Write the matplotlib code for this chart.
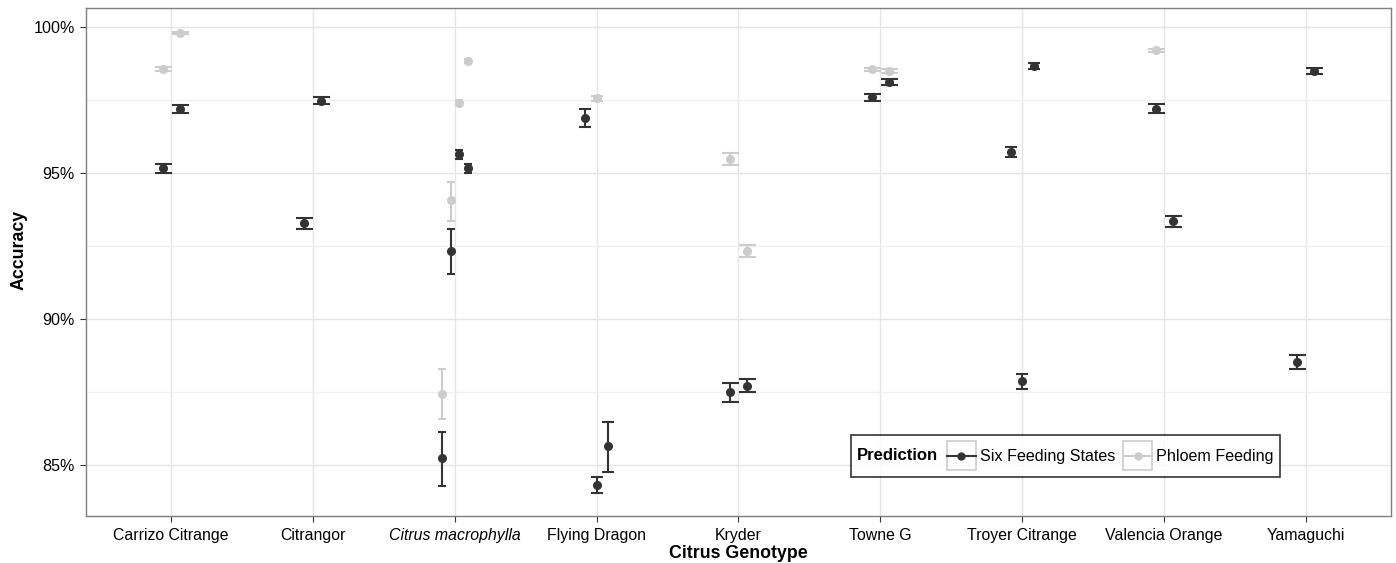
import matplotlib
matplotlib.use("Agg")
import matplotlib.pyplot as plt
from matplotlib.lines import Line2D
from matplotlib.patches import Rectangle
from matplotlib.legend_handler import HandlerLine2D
from matplotlib.ticker import FuncFormatter, MultipleLocator

plt.rcParams['font.family'] = ['Liberation Sans', 'DejaVu Sans']

genotypes = ["Carrizo Citrange", "Citrangor", "Citrus macrophylla", "Flying Dragon",
             "Kryder", "Towne G", "Troyer Citrange", "Valencia Orange", "Yamaguchi"]
# number of dodge groups present at each genotype
n_groups = [2, 2, 4, 3, 2, 2, 3, 2, 2]

# Six Feeding States: genotype index, dodge slot, mean accuracy, lower, upper
six_geno = [0, 0, 1, 1, 2, 2, 2, 2, 3, 3, 3, 4, 4, 5, 5, 6, 6, 6, 7, 7, 8, 8]
six_slot = [0, 1, 0, 1, 0, 1, 2, 3, 0, 1, 2, 0, 1, 0, 1, 0, 1, 2, 0, 1, 0, 1]
six_acc = [95.16, 97.20, 93.28, 97.48, 85.24, 92.33, 95.65, 95.17, 96.89, 84.30, 85.65,
           87.48, 87.71, 97.59, 98.12, 95.72, 87.86, 98.65, 97.20, 93.35, 88.53, 98.50]
six_lo = [95.01, 97.06, 93.09, 97.36, 84.28, 91.53, 95.47, 94.99, 96.59, 84.03, 84.77,
          87.15, 87.48, 97.47, 98.00, 95.56, 87.60, 98.55, 97.04, 93.15, 88.29, 98.39]
six_hi = [95.31, 97.34, 93.47, 97.60, 86.14, 93.07, 95.78, 95.31, 97.19, 84.57, 86.48,
          87.80, 87.95, 97.71, 98.23, 95.88, 88.10, 98.76, 97.37, 93.54, 88.77, 98.61]

# Phloem Feeding
phl_geno = [0, 0, 2, 2, 2, 2, 3, 4, 4, 5, 5, 7]
phl_slot = [0, 1, 0, 1, 2, 3, 1, 0, 1, 0, 1, 0]
phl_acc = [98.55, 99.80, 87.43, 94.07, 97.41, 98.83, 97.56, 95.48, 92.34, 98.55, 98.50, 99.20]
phl_lo = [98.49, 99.76, 86.58, 93.35, 97.33, 98.77, 97.48, 95.27, 92.13, 98.49, 98.43, 99.14]
phl_hi = [98.62, 99.84, 88.30, 94.70, 97.50, 98.89, 97.64, 95.68, 92.52, 98.61, 98.57, 99.26]

DODGE = 0.24
DARK = "#333333"
LIGHT = "#CCCCCC"


def dodge_x(geno, slot):
    n = n_groups[geno]
    return geno + (slot + 0.5 - n / 2.0) * DODGE / n


def draw_series(ax, geno, slot, acc, lo, hi, color):
    for g, s, a, l, h in zip(geno, slot, acc, lo, hi):
        n = n_groups[g]
        cap = 0.72 * 17.0 / n  # half cap width ~ slot width, in points
        ax.errorbar(dodge_x(g, s), a, yerr=[[a - l], [h - a]], fmt='o', color=color,
                    ms=5.5, elinewidth=1.5, capsize=cap, capthick=1.5, zorder=3)


class BoxedKey(HandlerLine2D):
    """legend key drawn inside a light grey box, like ggplot"""
    def create_artists(self, legend, orig_handle, xdescent, ydescent, width, height,
                       fontsize, trans):
        artists = super().create_artists(legend, orig_handle, xdescent, ydescent,
                                         width, height, fontsize, trans)
        yc = height / 2.0 - ydescent
        for a in artists:
            if isinstance(a, Line2D):
                xd = list(a.get_xdata())
                if len(xd) == 2:
                    xd = [xd[0] + 0.12 * width, xd[1] - 0.12 * width]
                    a.set_xdata(xd)
                a.set_ydata([yc] * len(xd))
        box = Rectangle((-xdescent, -ydescent), width, height, fill=False,
                        edgecolor="#CCCCCC", lw=1.2, transform=trans)
        return [box] + artists


fig = plt.figure(figsize=(13.96, 5.63), dpi=100)
ax = fig.add_axes([0.0616, 0.0835, 0.9348, 0.9023])

draw_series(ax, phl_geno, phl_slot, phl_acc, phl_lo, phl_hi, LIGHT)
draw_series(ax, six_geno, six_slot, six_acc, six_lo, six_hi, DARK)

ax.set_xlim(-0.6, len(genotypes) - 0.4)
ax.set_ylim(83.25, 100.65)
ax.set_xticks(range(len(genotypes)))
ax.set_xticklabels(genotypes, fontsize=11.4, color="black")
for lab in ax.get_xticklabels():
    if lab.get_text() == "Citrus macrophylla":
        lab.set_style("italic")
ax.yaxis.set_major_locator(MultipleLocator(5))
ax.yaxis.set_minor_locator(MultipleLocator(2.5))
ax.yaxis.set_major_formatter(FuncFormatter(lambda v, p: "%d%%" % v))
ax.tick_params(axis='y', which='major', labelsize=11.6, labelcolor="black", color="#333333",
               length=4, pad=4)
ax.tick_params(axis='y', which='minor', length=0)
ax.tick_params(axis='x', color="#333333", length=4, pad=5)

ax.grid(which='major', color="#E5E5E5", linewidth=1, zorder=0)
ax.grid(which='minor', axis='y', color="#F0F0F0", linewidth=1, zorder=0)
ax.set_axisbelow(True)
for sp in ax.spines.values():
    sp.set_color("#7F7F7F")
    sp.set_linewidth(1)

ax.set_xlabel("Citrus Genotype", fontsize=12.8, fontweight='bold', labelpad=1)
ax.set_ylabel("Accuracy", fontsize=12.8, fontweight='bold')
ax.yaxis.set_label_coords(-0.0445, 0.524)

handles = [Line2D([], [], color=DARK, marker='o', ms=5, lw=1.5),
           Line2D([], [], color=LIGHT, marker='o', ms=5, lw=1.5)]
leg = ax.legend(handles, ["Six Feeding States", "Phloem Feeding"], ncol=2,
                title="Prediction", title_fontproperties={'weight': 'bold', 'size': 12},
                fontsize=11.6, loc='lower left', bbox_to_anchor=(0.586, 0.077),
                frameon=True, fancybox=False, edgecolor="black",
                handlelength=1.8, handleheight=2.4, handletextpad=0.25,
                columnspacing=0.3, borderpad=0.4, borderaxespad=0,
                handler_map={Line2D: BoxedKey()})
leg.get_frame().set_linewidth(1.2)
# put the legend title inline, to the left of the keys
box = leg._legend_box
title_box = box._children[0]
entries = box._children[1]
box._children = [entries]
entries._children = [title_box] + entries._children
entries.sep = 6
entries.align = "center"

fig.savefig("out.png", dpi=100)
